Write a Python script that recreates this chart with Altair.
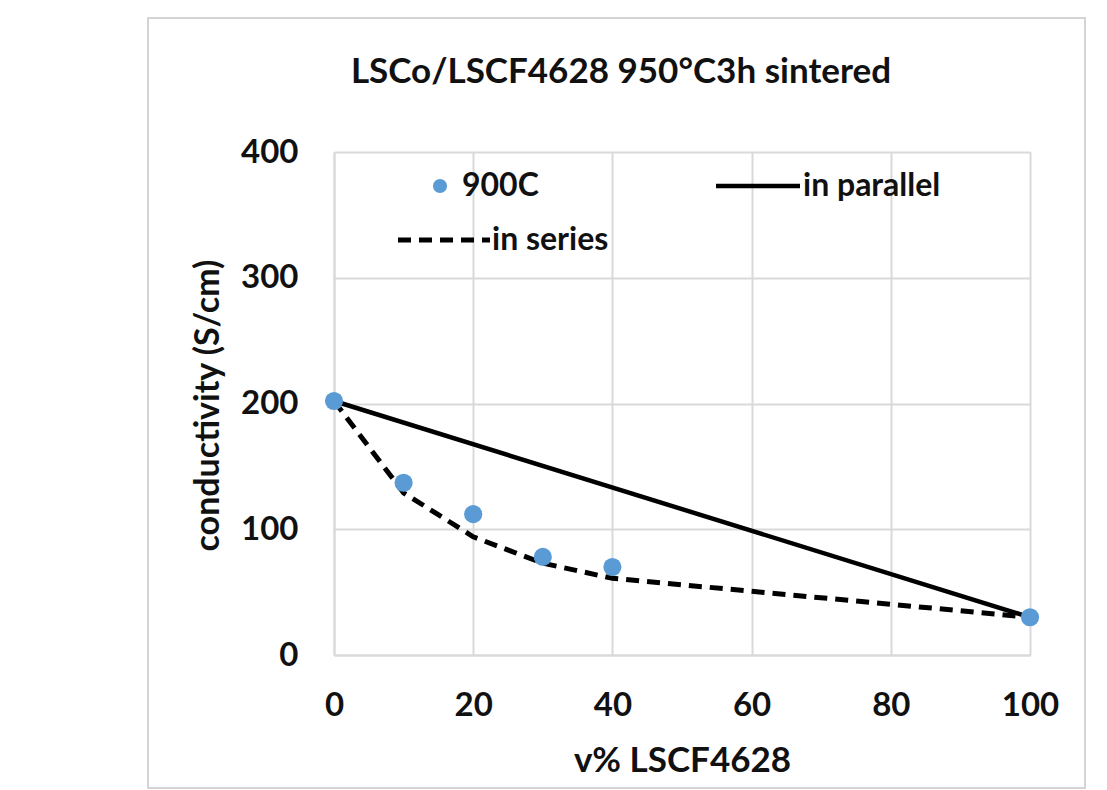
import altair as alt
import pandas as pd

# ---- data ----
x_points = [0, 10, 20, 30, 40, 100]
y_points = [202, 137, 112, 78, 70, 30]          # 900C measured

x_series = [0, 10, 20, 30, 40, 100]
y_series = [202, 129, 94, 73, 61, 30]           # in series model

x_parallel = [0, 100]
y_parallel = [202, 30]                          # in parallel model

x_ticks = [0, 20, 40, 60, 80, 100]
y_ticks = [0, 100, 200, 300, 400]

title_text = "LSCo/LSCF4628 950°C3h sintered"
x_title = "v% LSCF4628"
y_title = "conductivity (S/cm)"

FONT = "Lato"
BLUE = "#5b9bd5"
GRID = "#d9d9d9"

df_pts = pd.DataFrame({"x": x_points, "y": y_points})
df_ser = pd.DataFrame({"x": x_series, "y": y_series})
df_par = pd.DataFrame({"x": x_parallel, "y": y_parallel})

W, H = 696, 503

xs = alt.Scale(domain=[0, 100], nice=False)
ys = alt.Scale(domain=[0, 400], nice=False)

xaxis = alt.Axis(values=x_ticks, title=x_title, grid=True, gridColor=GRID, gridWidth=2,
                 domainColor=GRID, domainWidth=2, ticks=False, labelPadding=34,
                 labelFlush=False, labelOverlap=False,
                 labelFontSize=33, labelFont=FONT, labelFontWeight="bold", labelColor="#111",
                 titleFont=FONT, titleFontSize=35, titleFontWeight="bold", titleColor="#111",
                 titleX=348, titleY=105, titleAlign="center", titleBaseline="middle")
yaxis = alt.Axis(values=y_ticks, title=y_title, grid=True, gridColor=GRID, gridWidth=2,
                 domainColor=GRID, domainWidth=2, ticks=False, labelPadding=36,
                 labelFlush=False, labelOverlap=False,
                 labelFontSize=33, labelFont=FONT, labelFontWeight="bold", labelColor="#111",
                 titleFont=FONT, titleFontSize=34, titleFontWeight="bold", titleColor="#111",
                 titleX=-126, titleY=253, titleAngle=270, titleAlign="center",
                 titleBaseline="middle")

base_x = alt.X("x:Q", scale=xs, axis=xaxis)
base_y = alt.Y("y:Q", scale=ys, axis=yaxis)

par = alt.Chart(df_par).mark_line(color="black", strokeWidth=4.5).encode(x=base_x, y=base_y)
ser = alt.Chart(df_ser).mark_line(color="black", strokeWidth=5, strokeDash=[13, 8]).encode(
    x=alt.X("x:Q", scale=xs), y=alt.Y("y:Q", scale=ys))
pts = alt.Chart(df_pts).mark_circle(color=BLUE, opacity=1, size=330).encode(
    x=alt.X("x:Q", scale=xs), y=alt.Y("y:Q", scale=ys))

# outer frame and title
one = pd.DataFrame({"a": [0]})
frame = alt.Chart(one).mark_rect(filled=False, stroke="#d4d4d4", strokeWidth=2, clip=False).encode(
    x=alt.value(-186), x2=alt.value(751), y=alt.value(-134), y2=alt.value(636))
title = alt.Chart(one).mark_text(text=title_text, font=FONT, fontSize=35, fontWeight="bold",
                                 color="#111", align="center", baseline="middle").encode(
    x=alt.value(287), y=alt.value(-80))

# legend (Excel style, inside plot)
leg_dot = alt.Chart(one).mark_circle(color=BLUE, opacity=1, size=200).encode(
    x=alt.value(106), y=alt.value(34))
leg_par = alt.Chart(one).mark_rule(color="black", strokeWidth=4.5).encode(
    x=alt.value(382), x2=alt.value(466), y=alt.value(34))
leg_ser = alt.Chart(one).mark_rule(color="black", strokeWidth=5, strokeDash=[13, 8]).encode(
    x=alt.value(64), x2=alt.value(156), y=alt.value(88))
lt = dict(font=FONT, fontSize=32, fontWeight="bold", color="#111", align="left", baseline="middle")
leg_t1 = alt.Chart(one).mark_text(text="900C", **lt).encode(x=alt.value(128), y=alt.value(34))
leg_t2 = alt.Chart(one).mark_text(text="in parallel", **lt).encode(x=alt.value(469), y=alt.value(34))
leg_t3 = alt.Chart(one).mark_text(text="in series", **lt).encode(x=alt.value(158), y=alt.value(88))

chart = alt.layer(par, ser, pts, frame, title, leg_dot, leg_par, leg_ser, leg_t1, leg_t2, leg_t3).properties(
    width=W, height=H,
    autosize=alt.AutoSizeParams(type="none"),
    padding={"left": 326, "top": 144, "right": 60, "bottom": 135},
).configure_view(stroke=None).configure(background="white")

chart.save("out.html", embed_options={"renderer": "svg", "actions": False})
